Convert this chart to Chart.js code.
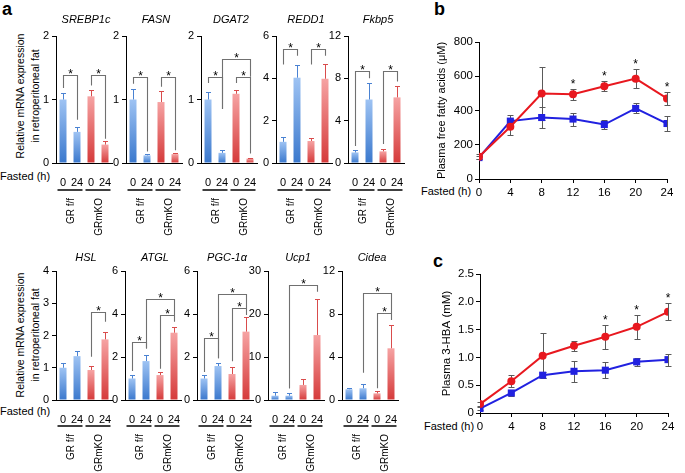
<!DOCTYPE html>
<html><head><meta charset="utf-8">
<script src="https://cdn.jsdelivr.net/npm/chart.js@4.4.1/dist/chart.umd.min.js"></script>
<style>
html,body{margin:0;padding:0;background:#fff;}
body{width:685px;height:473px;position:relative;overflow:hidden;font-family:"Liberation Sans",Arial,Helvetica,sans-serif;color:#000;}
canvas{position:absolute;}
.t{position:absolute;white-space:nowrap;line-height:1;}
.pl{font-weight:bold;font-size:18px;}
.rot{transform:translate(-50%,-50%) rotate(-90deg);text-align:center;font-size:10.5px;line-height:15px;}
.fx{font-size:11px;}
</style></head><body>
<div class="t pl" style="left:2px;top:0px">a</div>
<div class="t pl" style="left:434px;top:0px">b</div>
<div class="t pl" style="left:433px;top:252px">c</div>
<div class="t rot" style="left:28px;top:96px">Relative mRNA expression<br>in retroperitoneal fat</div>
<div class="t rot" style="left:28px;top:335px">Relative mRNA expression<br>in retroperitoneal fat</div>
<div class="t fx" style="left:0px;top:171px">Fasted (h)</div>
<div class="t fx" style="left:0px;top:406px">Fasted (h)</div>
<div class="t fx" style="left:421px;top:186px">Fasted (h)</div>
<div class="t fx" style="left:424px;top:421px">Fasted (h)</div>
<script>
// ---------- Panel a data ----------
const fastedHours = ['0','24','0','24'];
const genotypes = ['GR f/f','GRmKO'];
const geneNames = ['SREBP1c','FASN','DGAT2','REDD1','Fkbp5','HSL','ATGL','PGC-1\u03B1','Ucp1','Cidea'];
const geneMax = [2,2,2,6,12,4,6,6,30,12];
const geneStep = [1,1,1,2,4,1,2,2,10,4];

const srebp1cMean = [1.00,0.49,1.05,0.29];
const srebp1cErr  = [0.10,0.08,0.10,0.05];
const srebp1cSig  = [[0,1,1.39,1.18,0.68],[2,3,1.39,1.22,0.38]];
const fasnMean = [1.00,0.12,0.96,0.14];
const fasnErr  = [0.17,0.02,0.17,0.02];
const fasnSig  = [[0,1,1.35,1.25,0.18],[2,3,1.35,1.20,0.20]];
const dgat2Mean = [1.00,0.16,1.09,0.07];
const dgat2Err  = [0.12,0.04,0.06,0.015];
const dgat2Sig  = [[0,1,1.36,1.26,0.85],[1,3,1.63,0.85,1.36],[2,3,1.36,1.26,0.15]];
const redd1Mean = [1.00,4.03,1.04,3.98];
const redd1Err  = [0.24,0.60,0.12,0.70];
const redd1Sig  = [[0,1,5.4,4.65,5.07],[2,3,5.4,4.65,5.07]];
const fkbp5Mean = [1.0,6.0,1.1,6.2];
const fkbp5Err  = [0.2,1.6,0.25,1.1];
const fkbp5Sig  = [[0,1,8.7,1.6,8.0],[2,3,8.7,1.8,7.7]];
const hslMean = [1.00,1.36,0.93,1.88];
const hslErr  = [0.14,0.17,0.12,0.24];
const hslSig  = [[2,3,2.74,1.34,2.43]];
const atglMean = [1.00,1.81,1.16,3.13];
const atglErr  = [0.15,0.28,0.16,0.28];
const atglSig  = [[0,1,2.71,1.35,2.40],[1,3,4.68,2.40,3.95],[2,3,3.95,1.45,3.64]];
const pgc1aMean = [1.00,1.58,1.21,3.18];
const pgc1aErr  = [0.15,0.16,0.31,0.66];
const pgc1aSig  = [[0,1,2.90,1.30,1.94],[1,3,4.91,1.94,4.26],[2,3,4.26,1.80,3.95]];
const ucp1Mean = [1.0,1.0,3.5,15.1];
const ucp1Err  = [0.9,0.6,1.5,8.5];
const ucp1Sig  = [[1,3,26.7,2.7,25.2]];
const cideaMean = [1.00,1.09,0.62,4.81];
const cideaErr  = [0.10,0.40,0.22,2.17];
const cideaSig  = [[1,3,9.92,2.54,8.06],[2,3,8.06,1.09,7.44]];

// ---------- Panels b, c data ----------
const fastHours = [0,4,8,12,16,20,24];
const ffaGRmKO    = [130,305,499,495,542,586,470];
const ffaGRmKOErr = [15,48,155,33,29,55,39];
const ffaGRff     = [125,338,359,350,318,412,324];
const ffaGRffErr  = [10,38,63,38,26,29,43];
const ffaStars = [12,16,20,24];
const ffaTickLabels = ['0','200','400','600','800'];
const hbaGRmKO    = [0.16,0.57,1.03,1.21,1.37,1.55,1.82];
const hbaGRmKOErr = [0.03,0.11,0.40,0.09,0.21,0.22,0.15];
const hbaGRff     = [0.08,0.36,0.68,0.75,0.77,0.92,0.96];
const hbaGRffErr  = [0.02,0.06,0.05,0.19,0.14,0.07,0.11];
const hbaStars = [16,20,24];
const hbaTickLabels = ['0','0.5','1.0','1.5','2.0','2.5'];

const FONT = '"Liberation Sans", Arial, Helvetica, sans-serif';
Chart.defaults.font.family = FONT;
Chart.defaults.color = '#000';
Chart.defaults.animation = false;

function barFill(c){
  const blue = c.dataIndex < 2;
  const solid = blue ? '#6a9fe4' : '#ea6a6a';
  const ch = c.chart, ys = ch.scales && ch.scales.y;
  if (!ys || !c.parsed) return solid;
  const yT = ys.getPixelForValue(c.parsed.y), yB = ys.getPixelForValue(0);
  if (!isFinite(yT) || !isFinite(yB)) return solid;
  const g = ch.ctx.createLinearGradient(0, yT, 0, yB + 0.01);
  if (blue){ g.addColorStop(0,'#9ec3f3'); g.addColorStop(1,'#3a78cd'); }
  else { g.addColorStop(0,'#f6a3a3'); g.addColorStop(1,'#d53a3a'); }
  return g;
}

function barOverlay(i, mean, err, sig, R){
  return {
    id:'ov'+i,
    afterDatasetsDraw(ch){
      const c = ch.ctx, xs = ch.scales.x, ys = ch.scales.y;
      c.save();
      mean.forEach((m,k)=>{
        const x = Math.round(xs.getPixelForValue(k)) + 0.5;
        const y0 = ys.getPixelForValue(m);
        const y1 = Math.round(ys.getPixelForValue(m + err[k])) + 0.5;
        c.strokeStyle = k < 2 ? '#4a82d2' : '#d94c4c';
        c.lineWidth = 1;
        c.beginPath(); c.moveTo(x, y0); c.lineTo(x, y1);
        c.moveTo(x - 2.5, y1); c.lineTo(x + 2.5, y1); c.stroke();
      });
      sig.forEach(s=>{
        const xa = Math.round(xs.getPixelForValue(s[0])) + 0.5, xb = Math.round(xs.getPixelForValue(s[1])) + 0.5;
        const yt = Math.round(ys.getPixelForValue(s[2])) + 0.5;
        c.strokeStyle = '#707070'; c.lineWidth = 1.1;
        c.beginPath();
        c.moveTo(xa, ys.getPixelForValue(s[3])); c.lineTo(xa, yt);
        c.lineTo(xb, yt); c.lineTo(xb, ys.getPixelForValue(s[4]));
        c.stroke();
        c.fillStyle = '#000'; c.font = '12px ' + FONT;
        c.textAlign = 'center'; c.textBaseline = 'alphabetic';
        c.fillText('*', (xa + xb) / 2, yt + 2);
      });
      c.restore();
    },
    afterDraw(ch){
      const c = ch.ctx, xs = ch.scales.x, a = ch.chartArea;
      c.save();
      c.fillStyle = '#000';
      c.font = 'italic 11px ' + FONT; c.textAlign = 'center'; c.textBaseline = 'middle';
      c.fillText(geneNames[i], (a.left + a.right) / 2 + 2, a.top - R.titleOff);
      c.strokeStyle = '#000'; c.lineWidth = 1.5;
      [0,2].forEach((k,g)=>{
        const x0 = xs.getPixelForValue(k) - 5.5, x1 = xs.getPixelForValue(k+1) + 5.5, y = a.bottom + R.lineOff;
        c.beginPath(); c.moveTo(x0, y); c.lineTo(x1, y); c.stroke();
        c.save(); c.translate((x0 + x1) / 2 + 1, y + 8); c.rotate(-Math.PI/2);
        c.font = '10px ' + FONT; c.textAlign = 'right'; c.textBaseline = 'middle';
        c.fillText(genotypes[g], 0, 0); c.restore();
      });
      c.restore();
    }
  };
}

function smallChart(i, mean, err, sig, axisX, R){
  const YW = 26, PW = 56, PR = 8;
  const cv = document.createElement('canvas');
  cv.width = YW + PW + PR; cv.height = R.h;
  cv.style.left = (axisX - YW) + 'px'; cv.style.top = R.top + 'px';
  document.body.appendChild(cv);
  const HX = R.h - R.plotTop - R.plotH;
  new Chart(cv, {
    type:'bar',
    data:{labels:fastedHours, datasets:[{data:mean, backgroundColor:barFill, borderWidth:0, barPercentage:0.5, categoryPercentage:1}]},
    options:{
      responsive:false, animation:false, devicePixelRatio:1,
      layout:{padding:{top:R.plotTop, right:PR, left:0, bottom:0}},
      plugins:{legend:{display:false}, tooltip:{enabled:false}},
      scales:{
        x:{grid:{display:false}, border:{display:true, color:'#000', width:1},
           ticks:{autoSkip:false, maxRotation:0, minRotation:0, padding:5, color:'#000', font:{size:11}},
           afterFit(s){ s.height = HX; }},
        y:{min:0, max:geneMax[i],
           ticks:{stepSize:geneStep[i], padding:3, color:'#000', font:{size:11}},
           grid:{drawOnChartArea:false, drawTicks:true, tickLength:4, color:'#000'},
           border:{color:'#000', width:1},
           afterFit(s){ s.width = YW; }}
      }
    },
    plugins:[barOverlay(i, mean, err, sig, R)]
  });
}

const topAxisX = [56,126,201,276,348];
const botAxisX = [56,125,197,268,342];
const rowsLayout = [
  {top:8, h:235, plotTop:28, plotH:127, titleOff:16, lineOff:27},
  {top:243, h:230, plotTop:28, plotH:129, titleOff:13, lineOff:26}
];
const panelA = [
  [srebp1cMean, srebp1cErr, srebp1cSig],
  [fasnMean, fasnErr, fasnSig],
  [dgat2Mean, dgat2Err, dgat2Sig],
  [redd1Mean, redd1Err, redd1Sig],
  [fkbp5Mean, fkbp5Err, fkbp5Sig],
  [hslMean, hslErr, hslSig],
  [atglMean, atglErr, atglSig],
  [pgc1aMean, pgc1aErr, pgc1aSig],
  [ucp1Mean, ucp1Err, ucp1Sig],
  [cideaMean, cideaErr, cideaSig]
];
panelA.forEach((d,i)=>{
  const row = i < 5 ? 0 : 1;
  const ax = row ? botAxisX[i-5] : topAxisX[i];
  smallChart(i, d[0], d[1], d[2], ax, rowsLayout[row]);
});

// ---------- line charts ----------
function lineChart(L){
  const cv = document.createElement('canvas');
  cv.width = L.w; cv.height = L.h;
  cv.style.left = L.left + 'px'; cv.style.top = L.top + 'px';
  document.body.appendChild(cv);
  const toPts = arr => fastHours.map((h,k)=>({x:h, y:arr[k]}));
  const ov = {
    id:'lineOv',
    beforeDatasetsDraw(ch){
      const c = ch.ctx, xs = ch.scales.x, ys = ch.scales.y;
      c.save(); c.strokeStyle = '#5a5a5a'; c.lineWidth = 1;
      [[L.ko, L.koErr],[L.ff, L.ffErr]].forEach(([m,e])=>{
        m.forEach((v,k)=>{
          const x = Math.round(xs.getPixelForValue(fastHours[k])) + 0.5;
          const yh = Math.round(ys.getPixelForValue(v + e[k])) + 0.5, yl = Math.round(ys.getPixelForValue(v - e[k])) + 0.5;
          c.beginPath(); c.moveTo(x, yh); c.lineTo(x, yl);
          c.moveTo(x - 3, yh); c.lineTo(x + 3, yh);
          c.moveTo(x - 3, yl); c.lineTo(x + 3, yl); c.stroke();
        });
      });
      c.restore();
    },
    afterDraw(ch){
      const c = ch.ctx, xs = ch.scales.x, ys = ch.scales.y, a = ch.chartArea;
      c.save(); c.fillStyle = '#000';
      c.font = '12px ' + FONT; c.textAlign = 'center'; c.textBaseline = 'alphabetic';
      L.stars.forEach(h=>{
        const k = fastHours.indexOf(h);
        c.fillText('*', xs.getPixelForValue(h), ys.getPixelForValue(L.ko[k] + L.koErr[k]) - 1);
      });
      c.translate(a.left - L.titleGap, (a.top + a.bottom) / 2); c.rotate(-Math.PI/2);
      c.font = L.titleSize + 'px ' + FONT; c.textBaseline = 'middle';
      c.fillText(L.title, 0, 0);
      c.restore();
    }
  };
  new Chart(cv, {
    type:'line',
    data:{datasets:[
      {data:toPts(L.ko), borderColor:'#e8181f', backgroundColor:'#e8181f', borderWidth:2, pointStyle:'circle', pointRadius:4, pointBorderWidth:0, tension:0},
      {data:toPts(L.ff), borderColor:'#2121e0', backgroundColor:'#2121e0', borderWidth:2, pointStyle:'rect', pointRadius:5, pointBorderWidth:0, tension:0}
    ]},
    options:{
      responsive:false, animation:false, devicePixelRatio:1,
      layout:{padding:{top:L.padTop, right:L.padRight, left:0, bottom:0}},
      plugins:{legend:{display:false}, tooltip:{enabled:false}},
      scales:{
        x:{type:'linear', min:0, max:24,
           ticks:{stepSize:4, padding:3, color:'#000', font:{size:11.5}},
           grid:{drawOnChartArea:false, drawTicks:true, tickLength:4, color:'#000'},
           border:{color:'#000', width:1},
           afterFit(s){ s.height = L.xh; }},
        y:{min:0, max:L.ymax,
           ticks:{stepSize:L.ystep, padding:2, color:'#000', font:{size:11.5}, callback:(v,idx)=>L.tickLabels[idx]},
           grid:{drawOnChartArea:false, drawTicks:true, tickLength:4, color:'#000'},
           border:{color:'#000', width:1},
           afterFit(s){ s.width = L.yw; }}
      }
    },
    plugins:[ov]
  });
}

lineChart({left:400, top:20, w:285, h:200, yw:79, padTop:22, padRight:18, xh:41,
  ymax:800, ystep:200, tickLabels:ffaTickLabels,
  ko:ffaGRmKO, koErr:ffaGRmKOErr, ff:ffaGRff, ffErr:ffaGRffErr, stars:ffaStars,
  title:'Plasma free fatty acids (\u03BCM)', titleGap:37, titleSize:11});
lineChart({left:400, top:250, w:285, h:200, yw:80, padTop:24, padRight:17, xh:37,
  ymax:2.5, ystep:0.5, tickLabels:hbaTickLabels,
  ko:hbaGRmKO, koErr:hbaGRmKOErr, ff:hbaGRff, ffErr:hbaGRffErr, stars:hbaStars,
  title:'Plasma 3-HBA (mM)', titleGap:33, titleSize:11.5});
</script>
</body></html>
